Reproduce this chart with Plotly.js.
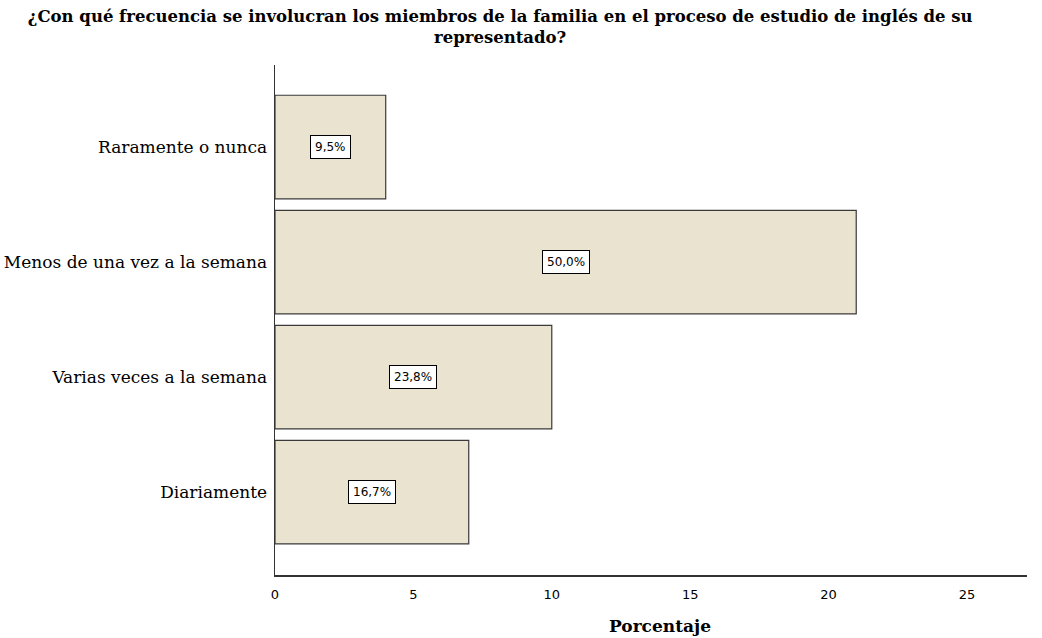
<!DOCTYPE html>
<html>
<head>
<meta charset="utf-8">
<script src="https://cdn.plot.ly/plotly-3.0.1.min.js"></script>
<style>body{margin:0;background:#fff}#chart{width:1042px;height:638px}</style>
</head>
<body>
<div id="chart"></div>
<script>
const categories = ["Raramente o nunca", "Menos de una vez a la semana", "Varias veces a la semana", "Diariamente"];
const counts = [4, 21, 10, 7];
const percentLabels = ["9,5%", "50,0%", "23,8%", "16,7%"];
const xTicks = [0, 5, 10, 15, 20, 25];

const trace = {
  type: "bar",
  orientation: "h",
  x: counts,
  y: categories,
  marker: {color: "#EAE3CF", line: {color: "#3a3a3a", width: 1.2}},
  width: 0.9,
  hoverinfo: "x+y"
};

const annotations = categories.map((c, i) => ({
  x: counts[i] / 2,
  y: c,
  xref: "x",
  yref: "y",
  text: percentLabels[i],
  showarrow: false,
  font: {family: "DejaVu Sans, Arial, sans-serif", size: 12, color: "#000"},
  bgcolor: "#ffffff",
  bordercolor: "#000000",
  borderwidth: 1,
  borderpad: 4
}));

annotations.push({
  text: "Porcentaje",
  xref: "paper", yref: "paper",
  x: 0.512, y: -0.1,
  xanchor: "center", yanchor: "middle",
  showarrow: false,
  font: {family: "DejaVu Serif, serif", size: 17, color: "#000", weight: "bold"}
});

const layout = {
  width: 1042,
  height: 638,
  margin: {l: 275, r: 15, t: 65, b: 63},
  paper_bgcolor: "#ffffff",
  plot_bgcolor: "#ffffff",
  showlegend: false,
  title: {
    text: "¿Con qué frecuencia se involucran los miembros de la familia en el proceso de estudio de inglés de su<br>representado?",
    font: {family: "DejaVu Serif, serif", size: 16.5, color: "#000", weight: "bold"},
    x: 0.48, xref: "container", xanchor: "center",
    y: 0.966, yref: "container", yanchor: "top"
  },
  xaxis: {
    range: [0, 27.17],
    tickvals: xTicks,
    ticktext: xTicks.map(String),
    showgrid: false,
    zeroline: false,
    showline: true,
    linecolor: "#333",
    linewidth: 1.5,
    ticks: "",
    ticklabelstandoff: 7,
    tickfont: {family: "DejaVu Sans, Arial, sans-serif", size: 13, color: "#000"}
  },
  yaxis: {
    type: "category",
    range: [3.72, -0.713],
    showgrid: false,
    zeroline: false,
    showline: true,
    linecolor: "#333",
    linewidth: 1.5,
    ticks: "",
    ticklabelstandoff: 3,
    tickfont: {family: "DejaVu Serif, serif", size: 17, color: "#000"}
  },
  annotations: annotations
};

Plotly.newPlot("chart", [trace], layout, {displayModeBar: false, staticPlot: true});
</script>
</body>
</html>
